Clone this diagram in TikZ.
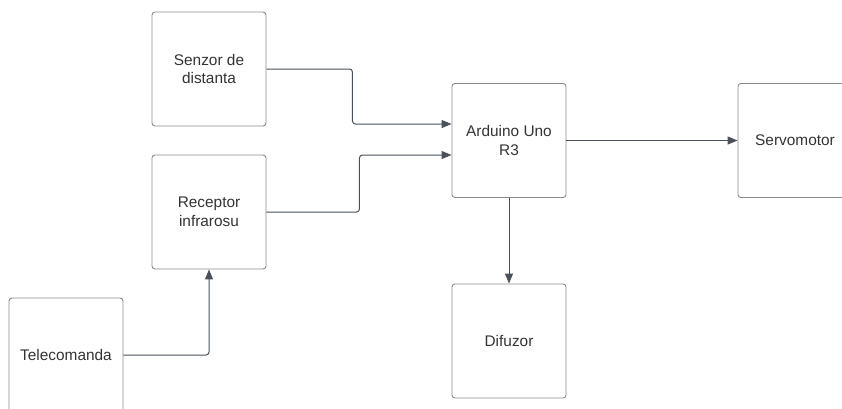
\documentclass[tikz,border=0pt]{standalone}
\usepackage{fontspec}
\setmainfont{Liberation Sans}
\usetikzlibrary{arrows.meta}
\definecolor{boxline}{HTML}{868B91}
\definecolor{connline}{HTML}{4A515A}
\definecolor{txt}{HTML}{333333}
\begin{document}
\begin{tikzpicture}[x=1pt,y=-1pt,
  blk/.style={draw=boxline, line width=0.9pt, rounded corners=3pt, minimum width=114pt, minimum height=114pt, inner sep=0pt, align=center, text=txt, font=\fontsize{15.4}{18.8}\selectfont},
  conn/.style={draw=connline, line width=1pt, rounded corners=3pt, -{Triangle[length=10pt,width=8pt]}}]
\useasboundingbox (0,0) rectangle (842,408);
\clip (0,0) rectangle (842,408);
\node[blk] (senzor) at (209,69) {Senzor de\\distanta};
\node[blk] (receptor) at (209,212) {Receptor\\infrarosu};
\node[blk] (tele) at (66,355) {Telecomanda};
\node[blk] (arduino) at (509,140.5) {Arduino Uno\\R3};
\node[blk] (servo) at (795,140.5) {Servomotor};
\node[blk] (difuzor) at (509,341) {Difuzor};
\draw[conn] (senzor.east) -- ++(86,0) |- ([yshift=16.5pt]arduino.west);
\draw[conn] (receptor.east) -- ++(93,0) |- ([yshift=-14.5pt]arduino.west);
\draw[conn] (tele.east) -| (receptor.south);
\draw[conn] (arduino.east) -- (servo.west);
\draw[conn] (arduino.south) -- (difuzor.north);
\end{tikzpicture}
\end{document}
